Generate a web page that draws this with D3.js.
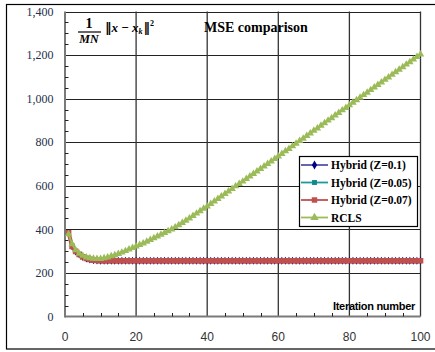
<!DOCTYPE html>
<html>
<head>
<meta charset="utf-8">
<script src="https://cdn.jsdelivr.net/npm/d3@7"></script>
<style>
  html, body { margin: 0; padding: 0; background: #fff; }
  svg { display: block; }
</style>
</head>
<body>
<div id="chart"></div>
<script>
// iteration index 1..100
const iterations = [
  1, 2, 3, 4, 5, 6, 7, 8, 9, 10,
  11, 12, 13, 14, 15, 16, 17, 18, 19, 20,
  21, 22, 23, 24, 25, 26, 27, 28, 29, 30,
  31, 32, 33, 34, 35, 36, 37, 38, 39, 40,
  41, 42, 43, 44, 45, 46, 47, 48, 49, 50,
  51, 52, 53, 54, 55, 56, 57, 58, 59, 60,
  61, 62, 63, 64, 65, 66, 67, 68, 69, 70,
  71, 72, 73, 74, 75, 76, 77, 78, 79, 80,
  81, 82, 83, 84, 85, 86, 87, 88, 89, 90,
  91, 92, 93, 94, 95, 96, 97, 98, 99, 100
];

const hybrid01 = [
  384, 321, 298, 284, 273, 266, 261, 258, 257, 256,
  256, 256, 256, 256, 256, 256, 256, 256, 256, 256,
  256, 256, 256, 256, 256, 256, 256, 256, 256, 256,
  256, 256, 256, 256, 256, 256, 256, 256, 256, 256,
  256, 256, 256, 256, 256, 256, 256, 256, 256, 256,
  256, 256, 256, 256, 256, 256, 256, 256, 256, 256,
  256, 256, 256, 256, 256, 256, 256, 256, 256, 256,
  256, 256, 256, 256, 256, 256, 256, 256, 256, 256,
  256, 256, 256, 256, 256, 256, 256, 256, 256, 256,
  256, 256, 256, 256, 256, 256, 256, 256, 256, 256
];

const hybrid005 = [
  384, 322, 299, 285, 274, 267, 262, 259, 257, 256,
  256, 256, 256, 256, 256, 256, 256, 256, 256, 256,
  256, 256, 256, 256, 256, 256, 256, 256, 256, 256,
  256, 256, 256, 256, 256, 256, 256, 256, 256, 256,
  256, 256, 256, 256, 256, 256, 256, 256, 256, 256,
  256, 256, 256, 256, 256, 256, 256, 256, 256, 256,
  256, 256, 256, 256, 256, 256, 256, 256, 256, 256,
  256, 256, 256, 256, 256, 256, 256, 256, 256, 256,
  256, 256, 256, 256, 256, 256, 256, 256, 256, 256,
  256, 256, 256, 256, 256, 256, 256, 256, 256, 256
];

const hybrid007 = [
  384, 322, 299, 285, 274, 267, 262, 259, 257, 256,
  256, 256, 256, 256, 256, 256, 256, 256, 256, 256,
  256, 256, 256, 256, 256, 256, 256, 256, 256, 256,
  256, 256, 256, 256, 256, 256, 256, 256, 256, 256,
  256, 256, 256, 256, 256, 256, 256, 256, 256, 256,
  256, 256, 256, 256, 256, 256, 256, 256, 256, 256,
  256, 256, 256, 256, 256, 256, 256, 256, 256, 256,
  256, 256, 256, 256, 256, 256, 256, 256, 256, 256,
  256, 256, 256, 256, 256, 256, 256, 256, 256, 256,
  256, 256, 256, 256, 256, 256, 256, 256, 256, 256
];

const rcls = [
  378, 332, 305, 289, 279, 272, 268, 266, 265, 265,
  268, 272, 277, 282, 288, 294, 301, 308, 315, 322,
  329, 336, 344, 352, 360, 368, 376, 384, 392, 400,
  410, 420, 430, 440, 451, 462, 473, 484, 495, 506,
  517, 529, 540, 552, 563, 575, 586, 598, 609, 620,
  632, 643, 655, 666, 678, 689, 701, 712, 724, 735,
  747, 759, 770, 782, 794, 806, 817, 829, 841, 853,
  864, 876, 888, 900, 911, 923, 935, 947, 958, 970,
  982, 993, 1005, 1017, 1028, 1040, 1052, 1063, 1075, 1087,
  1098, 1110, 1122, 1133, 1145, 1157, 1168, 1180, 1192, 1203
];

const seriesNames = ["Hybrid (Z=0.1)", "Hybrid (Z=0.05)", "Hybrid (Z=0.07)", "RCLS"];
const yTicks = [0, 200, 400, 600, 800, 1000, 1200, 1400];
const xTicks = [0, 20, 40, 60, 80, 100];

const width = 435, height = 352;
const plot = { left: 65, top: 11.5, right: 420.5, bottom: 316.5 };

const series = [
  { name: seriesNames[0], values: hybrid01, line: "#5555a8", fill: "#000080", shape: d3.symbolDiamond, size: 18, sw: 2 },
  { name: seriesNames[1], values: hybrid005, line: "#1a9a9a", fill: "#0f8a8a", shape: d3.symbolSquare, size: 18, sw: 2 },
  { name: seriesNames[2], values: hybrid007, line: "#c0504d", fill: "#c0504d", shape: d3.symbolSquare, size: 32, sw: 4 },
  { name: seriesNames[3], values: rcls, line: "#9bbb59", fill: "#9bbb59", shape: d3.symbolTriangle, size: 24, sw: 2 }
];

const svg = d3.select("#chart").append("svg")
  .attr("width", width)
  .attr("height", height);

// outer frame
svg.append("rect")
  .attr("x", 6.5).attr("y", 4.5)
  .attr("width", 440).attr("height", 344.5)
  .attr("fill", "#fff")
  .attr("stroke", "#000")
  .attr("stroke-width", 1.2);

const x = d3.scaleLinear().domain([0, 100]).range([plot.left, plot.right]);
const y = d3.scaleLinear().domain([0, 1400]).range([plot.bottom, plot.top]);

// grid
const grid = svg.append("g");
grid.selectAll("line.h")
  .data(yTicks.filter(d => d > 0))
  .enter().append("line")
  .attr("x1", plot.left).attr("x2", plot.right)
  .attr("y1", d => Math.round(y(d)) + 0.5).attr("y2", d => Math.round(y(d)) + 0.5)
  .attr("stroke", "#222").attr("stroke-width", 1.2);
grid.selectAll("line.v")
  .data(xTicks.filter(d => d > 0))
  .enter().append("line")
  .attr("x1", d => x(d)).attr("x2", d => x(d))
  .attr("y1", plot.top).attr("y2", plot.bottom)
  .attr("stroke", "#333").attr("stroke-width", 1.3);

// axes lines
svg.append("line")
  .attr("x1", plot.left).attr("x2", plot.left)
  .attr("y1", plot.top).attr("y2", plot.bottom + 1)
  .attr("stroke", "#7a7a7a").attr("stroke-width", 2);
svg.append("line")
  .attr("x1", plot.left).attr("x2", plot.right)
  .attr("y1", plot.bottom).attr("y2", plot.bottom)
  .attr("stroke", "#7a7a7a").attr("stroke-width", 2);

// minor ticks
const yMinor = d3.range(50, 1400, 50).filter(d => d % 200 !== 0);
svg.append("g").selectAll("line")
  .data(yMinor).enter().append("line")
  .attr("x1", plot.left).attr("x2", plot.left + 3.5)
  .attr("y1", d => Math.round(y(d)) + 0.5).attr("y2", d => Math.round(y(d)) + 0.5)
  .attr("stroke", "#222").attr("stroke-width", 1);
const xMinor = d3.range(5, 100, 5).filter(d => d % 20 !== 0);
svg.append("g").selectAll("line")
  .data(xMinor).enter().append("line")
  .attr("x1", d => Math.round(x(d)) + 0.5).attr("x2", d => Math.round(x(d)) + 0.5)
  .attr("y1", plot.bottom).attr("y2", plot.bottom - 3.5)
  .attr("stroke", "#222").attr("stroke-width", 1);

// tick labels
svg.append("g").selectAll("text")
  .data(yTicks).enter().append("text")
  .attr("x", 53.5)
  .attr("y", d => y(d))
  .attr("dy", "0.35em")
  .attr("text-anchor", "end")
  .attr("font-family", "Liberation Serif, Times New Roman, serif")
  .attr("font-size", 12)
  .attr("fill", "#24304a")
  .text(d => d3.format(",")(d));

svg.append("g").selectAll("text")
  .data(xTicks).enter().append("text")
  .attr("x", d => x(d))
  .attr("y", 336.5)
  .attr("dy", "0.35em")
  .attr("text-anchor", "middle")
  .attr("font-family", "Liberation Sans Narrow, Arial Narrow, Liberation Sans, sans-serif")
  .attr("font-size", 12)
  .attr("fill", "#333")
  .text(d => d);

// series
svg.append("clipPath").attr("id", "plotclip")
  .append("rect")
  .attr("x", plot.left - 6).attr("y", plot.top - 6)
  .attr("width", plot.right - plot.left + 12).attr("height", plot.bottom - plot.top + 6);

const line = d3.line()
  .x((d, i) => x(iterations[i]))
  .y(d => y(d));

const drawOrder = [0, 1, 2, 3];
drawOrder.forEach(k => {
  const s = series[k];
  const g = svg.append("g").attr("clip-path", "url(#plotclip)");
  g.append("path")
    .datum(s.values)
    .attr("fill", "none")
    .attr("stroke", s.line)
    .attr("stroke-width", s.sw)
    .attr("d", line);
  g.selectAll("path.m")
    .data(s.values).enter().append("path")
    .attr("transform", (d, i) => "translate(" + x(iterations[i]) + "," + y(d) + ")")
    .attr("d", d3.symbol().type(s.shape).size(s.size))
    .attr("fill", s.fill);
});

// y label formula
const formula = svg.append("g")
  .attr("font-family", "Liberation Serif, Times New Roman, serif")
  .attr("font-weight", "bold")
  .attr("fill", "#000");
formula.append("text")
  .attr("x", 89).attr("y", 28)
  .attr("text-anchor", "middle")
  .attr("font-size", 14)
  .text("1");
formula.append("line")
  .attr("x1", 78).attr("x2", 101)
  .attr("y1", 32).attr("y2", 32)
  .attr("stroke", "#000").attr("stroke-width", 1.2);
formula.append("text")
  .attr("x", 89).attr("y", 43)
  .attr("text-anchor", "middle")
  .attr("font-size", 12)
  .attr("font-style", "italic")
  .text("MN");
const norm = formula.append("text")
  .attr("x", 105).attr("y", 32)
  .attr("font-size", 13);
norm.append("tspan").attr("font-family", "DejaVu Serif, serif").text("‖");
norm.append("tspan").attr("font-style", "italic").text("x");
norm.append("tspan").text(" − ");
norm.append("tspan").attr("font-style", "italic").text("x");
norm.append("tspan").attr("font-style", "italic").attr("font-size", 8).attr("dy", 2).text("k");
norm.append("tspan").attr("font-family", "DejaVu Serif, serif").attr("dy", -2).attr("dx", 1).text("‖");
norm.append("tspan").attr("font-size", 8).attr("dy", -6).text("2");

// title
svg.append("text")
  .attr("x", 204).attr("y", 32)
  .attr("font-family", "Liberation Serif, Times New Roman, serif")
  .attr("font-weight", "bold")
  .attr("font-size", 14)
  .text("MSE comparison");

// x label
svg.append("text")
  .attr("x", 415).attr("y", 306)
  .attr("dy", "0.35em")
  .attr("text-anchor", "end")
  .attr("font-family", "Liberation Sans Narrow, Arial Narrow, Liberation Sans, sans-serif")
  .attr("font-weight", "bold")
  .attr("font-size", 11)
  .attr("letter-spacing", -0.3)
  .text("Iteration number");

// legend
const legend = svg.append("g");
legend.append("rect")
  .attr("x", 299.5).attr("y", 156.5)
  .attr("width", 118).attr("height", 70)
  .attr("fill", "#fff")
  .attr("stroke", "#000").attr("stroke-width", 1.2);
const rowY = d3.scalePoint().domain(seriesNames).range([165, 217.5]);
series.forEach(s => {
  const yy = rowY(s.name);
  legend.append("line")
    .attr("x1", 301).attr("x2", 328)
    .attr("y1", yy).attr("y2", yy)
    .attr("stroke", s.line).attr("stroke-width", 1.8);
  legend.append("path")
    .attr("transform", "translate(314.5," + yy + ")")
    .attr("d", d3.symbol().type(s.shape).size(Math.min(s.size, 24) + 6))
    .attr("fill", s.fill);
  legend.append("text")
    .attr("x", 331).attr("y", yy)
    .attr("dy", "0.35em")
    .attr("font-family", "Liberation Serif, Times New Roman, serif")
    .attr("font-weight", "bold")
    .attr("font-size", 11.5)
    .text(s.name);
});
</script>
</body>
</html>
